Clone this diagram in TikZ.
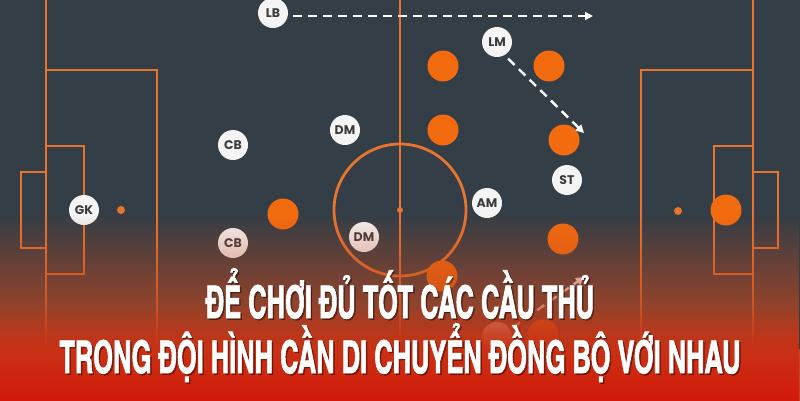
\documentclass[tikz,border=0pt]{standalone}
\usepackage{fontspec}
\usetikzlibrary{arrows.meta,fadings}
\newfontfamily\labfont{Poppins}
\newfontfamily\titlefont{texgyreheroscn-bold}[Extension=.otf, FakeBold=1.8]
\definecolor{bgc}{HTML}{343E46}
\definecolor{lineor}{HTML}{E8742E}
\definecolor{orc}{HTML}{F26B0F}
\definecolor{wpc}{HTML}{F4F4F4}
\definecolor{labc}{HTML}{3B3B3B}
\definecolor{ovA}{HTML}{C0461F}
\definecolor{ovB}{HTML}{D41A0A}
\tikzfading[name=fadeA, top color=transparent!100, bottom color=transparent!0]
\begin{document}
\begin{tikzpicture}[x=1pt,y=-1pt,
  pline/.style={draw=lineor, line width=2.8pt},
  wp/.style={circle, fill=wpc, minimum size=30pt, inner sep=0pt, text=labc,
    font=\labfont\bfseries\fontsize{12.5}{12.5}\selectfont},
  op/.style={circle, fill=orc, minimum size=31pt, inner sep=0pt},
  run/.style={draw=white, line width=2.4pt, dash pattern=on 9pt off 6pt,
    -{Triangle[length=8pt,width=8pt]}},
  ttl/.style={anchor=base, text=white, xscale=0.69, font=\titlefont\fontsize{45}{45}\selectfont},
  ttlsh/.style={anchor=base, text=black, opacity=0.35, xscale=0.69, font=\titlefont\fontsize{45}{45}\selectfont}]
\useasboundingbox (0,0) rectangle (800,400);
\begin{scope}
\clip (0,0) rectangle (800,400);
\fill[bgc] (0,0) rectangle (800,400);
% left half
\draw[pline] (46,-5) -- (46,420);
\draw[pline] (46,70) -| (157,350) -- (46,350);
\draw[pline] (46,146) -| (84,274) -- (46,274);
\draw[pline] (46,172) -| (21,248) -- (46,248);
\fill[lineor] (121,210) circle (4);
% right half
\draw[pline] (753,-5) -- (753,420);
\draw[pline] (753,70) -| (641,350) -- (753,350);
\draw[pline] (753,146) -| (714,274) -- (753,274);
\draw[pline] (753,172) -| (778,248) -- (753,248);
\fill[lineor] (678,211) circle (4);
% centre
\draw[pline] (400,-5) -- (400,420);
\draw[pline] (400,210) circle (66);
\fill[lineor] (400,210) circle (3);
% players
\node[wp] (GK) at (84,210) {GK};
\node[wp] (LB) at (273,13) {LB};
\node[wp] (CBa) at (233,145) {CB};
\node[wp] (DMa) at (345,130) {DM};
\node[wp] (LM) at (497,42) {LM};
\node[wp] (ST) at (567,180) {ST};
\node[wp] (AM) at (487,203) {AM};
\node[wp] (CBb) at (233,243) {CB};
\node[wp] (DMb) at (364,237) {DM};
\node[wp] (W) at (497,337) {};
\node[op] (o1) at (443,66) {};
\node[op] (o2) at (549,66) {};
\node[op] (o3) at (443,130) {};
\node[op] (o4) at (564,140) {};
\node[op] (o5) at (283,214) {};
\node[op] (o6) at (563,239) {};
\node[op] (o7) at (442,276) {};
\node[op] (o8) at (726,210) {};
\node[op] (o9) at (543,335) {};
% runs
\coordinate (lbend) at (593,16);
\coordinate (lmend) at (584,133);
\coordinate (wend) at (584,277);
\draw[run, shorten <=5pt] (LB.east |- lbend) -- (lbend);
\draw[run, shorten <=5pt] (LM.-60) -- (lmend);
\draw[run, shorten <=3pt] (W.30) -- (wend);
% overlay gradient
\fill[ovA, path fading=fadeA] (0,214) rectangle (800,350);
\fill[ovA] (0,349) rectangle (800,401);
\fill[ovB, path fading=fadeA] (0,305) rectangle (800,401);
\end{scope}
% title
\node[ttlsh] (s1) at (401.5,319.5) {ĐỂ CHƠI ĐỦ TỐT CÁC CẦU THỦ};
\node[ttlsh] (s2) at (401.5,374.5) {TRONG ĐỘI HÌNH CẦN DI CHUYỂN ĐỒNG BỘ VỚI NHAU};
\node[ttl] (t1) at (400,318) {ĐỂ CHƠI ĐỦ TỐT CÁC CẦU THỦ};
\node[ttl] (t2) at (400,373) {TRONG ĐỘI HÌNH CẦN DI CHUYỂN ĐỒNG BỘ VỚI NHAU};
\end{tikzpicture}
\end{document}
